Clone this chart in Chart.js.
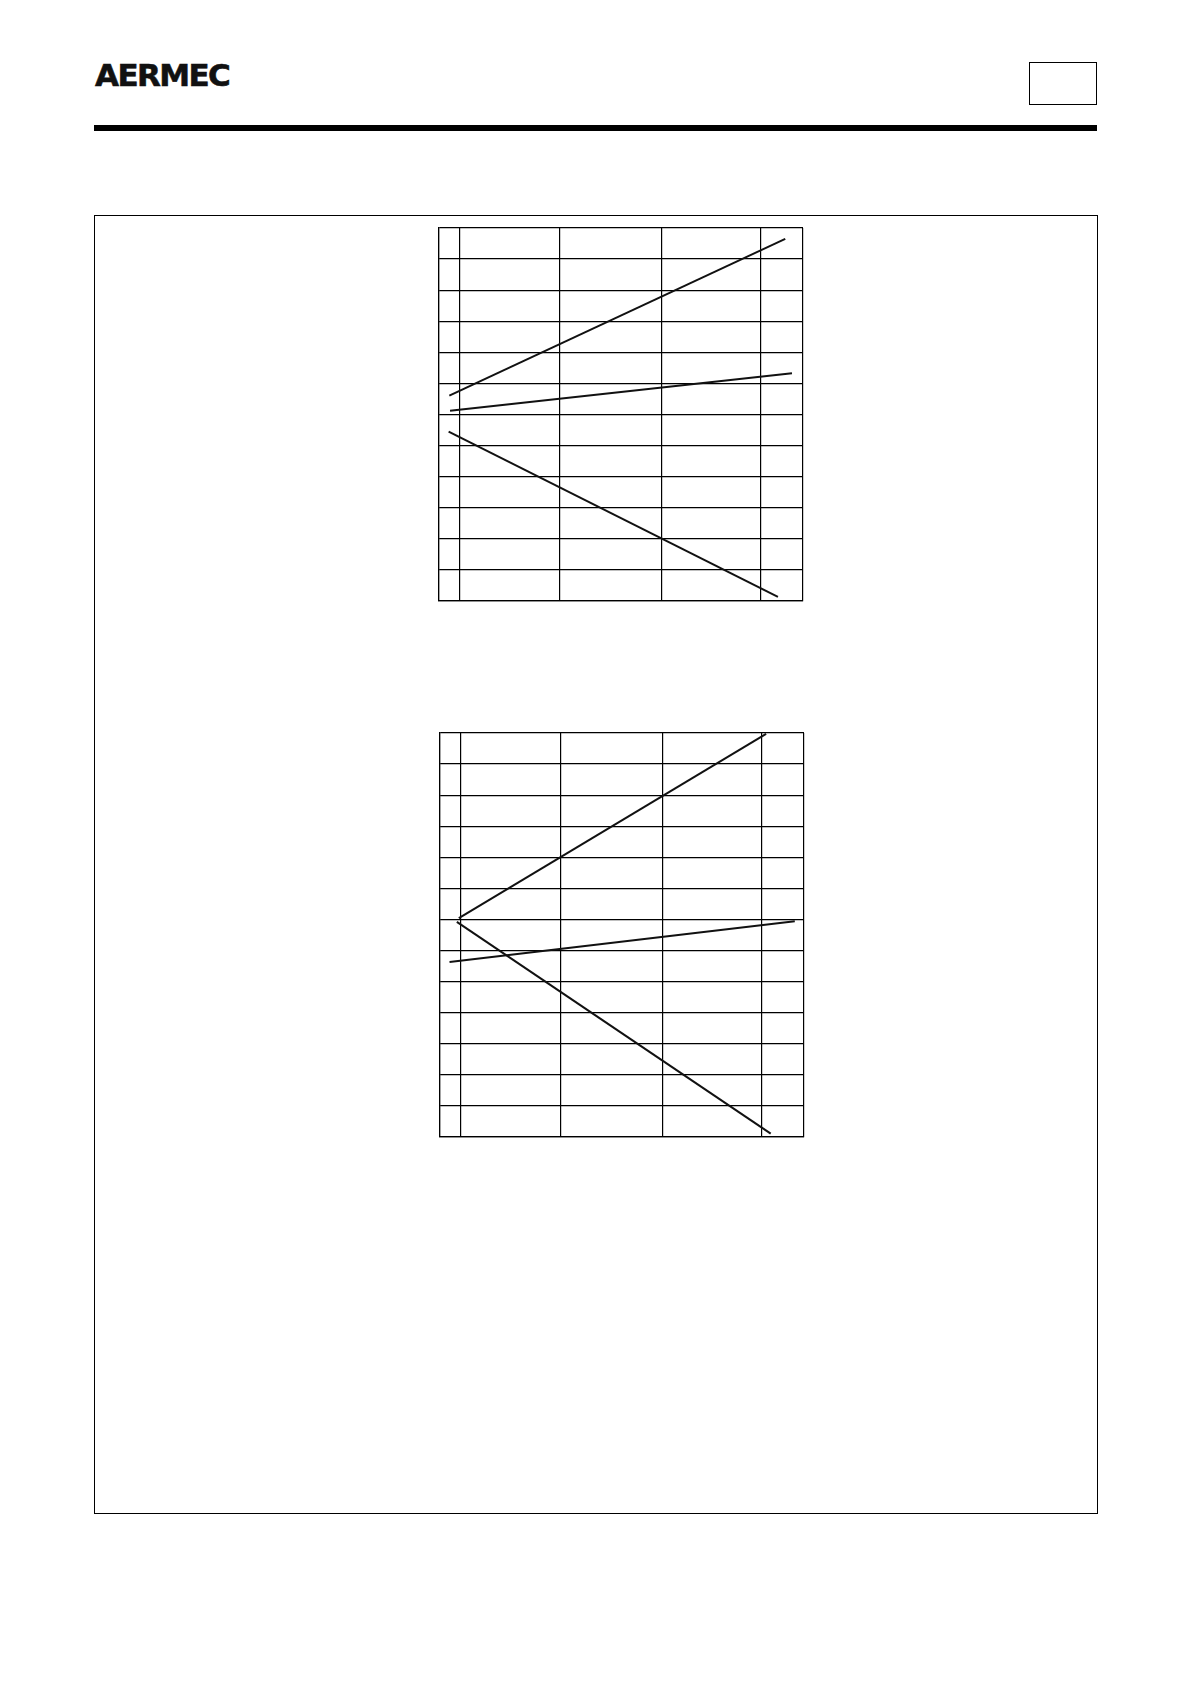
<!DOCTYPE html>
<html>
<head>
<meta charset="utf-8">
<script src="https://cdn.jsdelivr.net/npm/chart.js@4/dist/chart.umd.min.js"></script>
<style>
  html, body { margin: 0; padding: 0; background: #ffffff; }
  body { width: 1190px; height: 1684px; position: relative; overflow: hidden; }
  .abs { position: absolute; }
  #logo { left: 95px; top: 59.5px; font-family: "DejaVu Sans", "Liberation Sans", sans-serif; font-weight: bold;
          font-size: 31px; line-height: 31px; letter-spacing: -1.6px; color: #111;
          -webkit-text-stroke: 0.6px #111; }
  #pagebox { left: 1029px; top: 62px; width: 66px; height: 41px; border: 1.2px solid #000; }
  #rule { left: 94px; top: 125px; width: 1003px; height: 6px; background: #000; }
  #frame { left: 94px; top: 215px; width: 1002px; height: 1297px; border: 1.2px solid #000; }
  canvas { position: absolute; }
</style>
</head>
<body>
<div id="logo" class="abs">AERMEC</div>
<div id="pagebox" class="abs"></div>
<div id="rule" class="abs"></div>
<div id="frame" class="abs"></div>
<canvas id="chartTop" width="384" height="393" style="left:429px;top:218px;width:384px;height:393px;"></canvas>
<canvas id="chartBottom" width="384" height="424" style="left:430px;top:723px;width:384px;height:424px;"></canvas>
<script>
// ---- data (abstract units: x = column units, y = row units) ----
const xGridLines = [0, 0.99, 2.01, 3];
const xMin = -0.21;
const xMax = 3.42;

const topRows = 12;
const bottomRows = 13;

// Top chart series: [x, y] end points
const topRising  = [[-0.107, 6.61], [3.243, 11.65]];
const topFlat    = [[-0.100, 6.12], [3.310, 7.33]];
const topFalling = [[-0.114, 5.45], [3.170, 0.13]];

// Bottom chart series
const bottomRising  = [[-0.022, 7.04], [3.042, 12.97]];
const bottomFlat    = [[-0.115, 5.63], [3.328, 6.94]];
const bottomFalling = [[-0.042, 6.92], [3.088, 0.11]];

function toPoints(arr) { return arr.map(p => ({ x: p[0], y: p[1] })); }

function makeChart(id, rows, series) {
  const ctx = document.getElementById(id);
  return new Chart(ctx, {
    type: 'line',
    data: {
      datasets: series.map(s => ({
        data: toPoints(s),
        borderColor: '#111',
        borderWidth: 2,
        pointRadius: 0,
        tension: 0,
        fill: false
      }))
    },
    options: {
      responsive: false,
      animation: false,
      devicePixelRatio: 1,
      layout: { padding: 10 },
      plugins: { legend: { display: false }, tooltip: { enabled: false } },
      scales: {
        x: {
          type: 'linear',
          min: xMin,
          max: xMax,
          afterBuildTicks: (scale) => {
            scale.ticks = [xMin].concat(xGridLines, [xMax]).map(v => ({ value: v }));
          },
          ticks: { display: false },
          grid: { color: '#000', lineWidth: 1.2, drawTicks: false },
          border: { color: '#000', width: 1.2 }
        },
        y: {
          type: 'linear',
          min: 0,
          max: rows,
          ticks: { display: false, stepSize: 1 },
          grid: { color: '#000', lineWidth: 1.2, drawTicks: false },
          border: { color: '#000', width: 1.2 }
        }
      }
    }
  });
}

makeChart('chartTop', topRows, [topRising, topFlat, topFalling]);
makeChart('chartBottom', bottomRows, [bottomRising, bottomFlat, bottomFalling]);
</script>
</body>
</html>
